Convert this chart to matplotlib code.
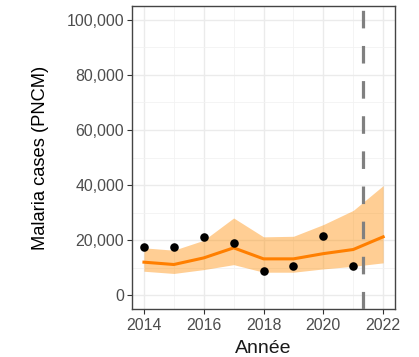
import matplotlib
matplotlib.use("Agg")
import matplotlib.pyplot as plt
import numpy as np

plt.rcParams["font.family"] = ["Liberation Sans", "DejaVu Sans"]

# observed cases and model fit
years_obs = [2014, 2015, 2016, 2017, 2018, 2019, 2020, 2021]
cases_obs = [17550, 17550, 21300, 19000, 8700, 10500, 21650, 10500]

years_fit = [2014, 2015, 2016, 2017, 2018, 2019, 2020, 2021, 2022]
fit_median = [12000, 11150, 13550, 17200, 13200, 13200, 15100, 16600, 21200]
fit_lower = [8700, 7900, 9300, 11100, 8350, 8350, 9550, 10500, 11750]
fit_upper = [17200, 16350, 19950, 28050, 21200, 21400, 25650, 30800, 39800]

cutoff_year = 2021.33

x_ticks = [2014, 2016, 2018, 2020, 2022]
y_ticks = [0, 20000, 40000, 60000, 80000, 100000]

fig = plt.figure(figsize=(4.19, 3.57), dpi=100)
ax = fig.add_axes([0.315, 0.1345, 0.628, 0.8485])

ax.fill_between(years_fit, fit_lower, fit_upper, color="#FF8C00", alpha=0.42,
                linewidth=0, zorder=2)
ax.plot(years_fit, fit_median, color="#FF7F00", linewidth=2.2, zorder=3)
ax.scatter(years_obs, cases_obs, s=38, color="black", zorder=4, linewidths=0)
ax.axvline(cutoff_year, color="#808080", linewidth=2.3, dashes=(5.5, 5.5), zorder=5)

ax.set_xlim(2013.6, 2022.4)
ax.set_ylim(-5000, 105000)
ax.set_xticks(x_ticks)
ax.set_yticks(y_ticks)
ax.set_xticks(np.arange(2015, 2022, 2), minor=True)
ax.set_yticks(np.arange(10000, 100001, 20000), minor=True)
ax.set_yticklabels([f"{v:,}" for v in y_ticks])

ax.grid(which="major", color="#EBEBEB", linewidth=1.0, zorder=0)
ax.grid(which="minor", color="#F2F2F2", linewidth=0.6, zorder=0)
ax.set_axisbelow(True)

ax.tick_params(which="major", length=3.6, width=0.8, color="#333333",
               labelsize=11.4, labelcolor="#4D4D4D", pad=2)
ax.tick_params(axis="x", which="major", pad=3)
ax.tick_params(which="minor", length=0)
for sp in ax.spines.values():
    sp.set_color("#444444")
    sp.set_linewidth(1.0)

ax.set_xlabel("Année", fontsize=14, color="#1A1A1A", labelpad=5)
ax.set_ylabel("Malaria cases (PNCM)", fontsize=13.2, color="black", labelpad=13)

fig.savefig("out.png", dpi=100)
